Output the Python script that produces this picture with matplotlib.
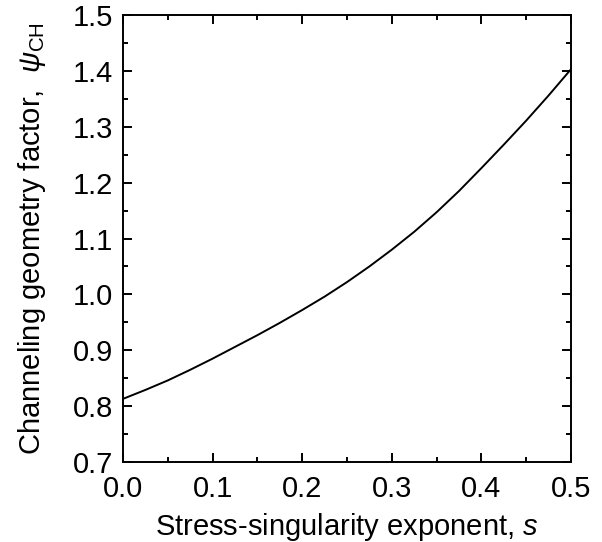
import matplotlib
matplotlib.use("Agg")
import matplotlib.pyplot as plt
from matplotlib.ticker import MultipleLocator

plt.rcParams['font.family'] = ['Liberation Sans', 'DejaVu Sans']
plt.rcParams['mathtext.fontset'] = 'custom'
plt.rcParams['mathtext.rm'] = 'Liberation Sans'
plt.rcParams['mathtext.it'] = 'Liberation Sans:italic'

s_values = [0.000, 0.025, 0.050, 0.075, 0.100, 0.125, 0.150, 0.175, 0.200, 0.225,
            0.250, 0.275, 0.300, 0.325, 0.350, 0.375, 0.400, 0.425, 0.450, 0.475, 0.500]
psi_ch = [0.813, 0.829, 0.846, 0.865, 0.885, 0.906, 0.927, 0.949, 0.972, 0.996,
          1.022, 1.050, 1.080, 1.112, 1.147, 1.185, 1.226, 1.268, 1.311, 1.356, 1.403]

fig = plt.figure(figsize=(6.02, 5.42), dpi=100)
ax = fig.add_axes([0.2043, 0.1476, 0.7442, 0.8247])
ax.plot(s_values, psi_ch, color='black', lw=1.4)

ax.set_xlim(0, 0.5)
ax.set_ylim(0.7, 1.5)
ax.xaxis.set_major_locator(MultipleLocator(0.1))
ax.xaxis.set_minor_locator(MultipleLocator(0.05))
ax.yaxis.set_major_locator(MultipleLocator(0.1))
ax.yaxis.set_minor_locator(MultipleLocator(0.05))
ax.xaxis.set_major_formatter(plt.FormatStrFormatter('%.1f'))
ax.yaxis.set_major_formatter(plt.FormatStrFormatter('%.1f'))

ax.tick_params(which='both', direction='in', top=True, right=True, width=1.4, labelsize=21)
ax.tick_params(which='major', length=6.5)
ax.tick_params(axis='x', which='major', pad=9)
ax.tick_params(axis='y', which='major', pad=7)
ax.tick_params(which='minor', length=3.5)
for sp in ax.spines.values():
    sp.set_linewidth(1.4)

ax.set_xlabel('Stress-singularity exponent, $\\mathit{s}$', fontsize=21, labelpad=6)
ax.set_ylabel('Channeling geometry factor,  $\\mathit{\\psi}_{\\mathrm{CH}}$', fontsize=21, labelpad=18)

fig.savefig('out.png', dpi=100)
